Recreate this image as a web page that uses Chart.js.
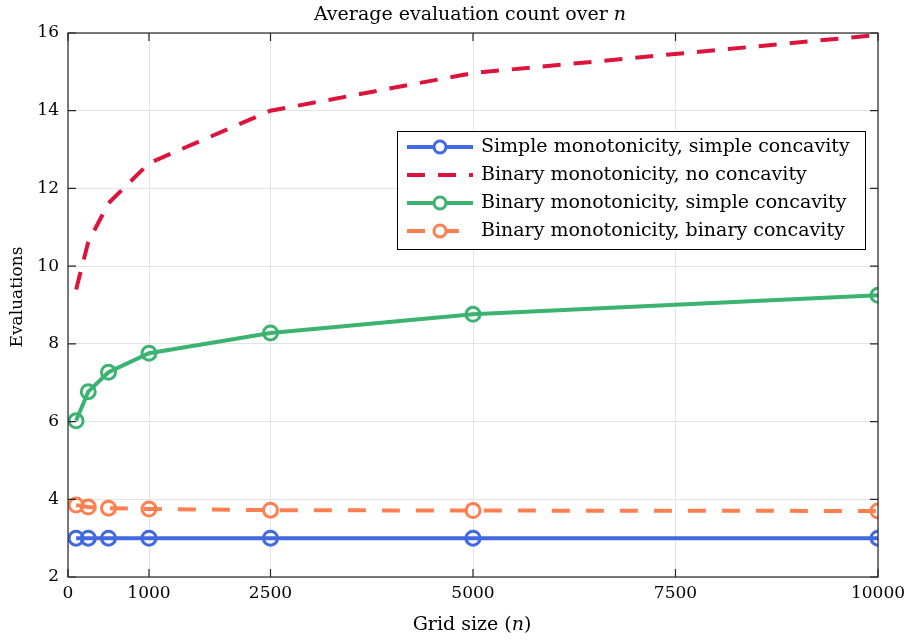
<!DOCTYPE html>
<html>
<head>
<meta charset="utf-8">
<script src="https://cdn.jsdelivr.net/npm/chart.js@4.4.1/dist/chart.umd.min.js"></script>
<style>
  html, body { margin: 0; padding: 0; background: #fff; }
  #wrap { width: 911px; height: 641px; }
</style>
</head>
<body>
<div id="wrap"><canvas id="chart" width="911" height="641"></canvas></div>
<script>
"use strict";

// grid sizes n
var gridSizes = [100, 250, 500, 1000, 2500, 5000, 10000];

// average evaluation counts
var simpleSimple = [3.0, 3.0, 3.0, 3.0, 3.0, 3.0, 3.0];
var binaryNone = [9.4, 10.62, 11.62, 12.65, 14.0, 14.97, 15.95];
var binarySimple = [6.02, 6.77, 7.27, 7.76, 8.28, 8.76, 9.25];
var binaryBinary = [3.85, 3.8, 3.77, 3.75, 3.72, 3.71, 3.7];

var xTickValues = [0, 1000, 2500, 5000, 7500, 10000];
var yTickValues = [2, 4, 6, 8, 10, 12, 14, 16];

var seriesNames = [
    "Simple monotonicity, simple concavity",
    "Binary monotonicity, no concavity",
    "Binary monotonicity, simple concavity",
    "Binary monotonicity, binary concavity"
];

var FONT = "'DejaVu Serif', serif";
var INK = "#262626";

function toPoints(ys) {
    return gridSizes.map(function(n, i) { return { x: n, y: ys[i] }; });
}

function makeSet(label, ys, color, dash, markers) {
    return {
        label: label,
        data: toPoints(ys),
        borderColor: color,
        backgroundColor: color,
        borderWidth: 4,
        borderDash: dash,
        pointRadius: markers ? 7 : 0,
        pointBorderWidth: 3,
        pointBorderColor: color,
        pointBackgroundColor: "rgba(0,0,0,0)",
        pointStyle: "circle",
        tension: 0,
        fill: false
    };
}

var frame_plugin = {
    id: "frame",
    afterDraw: function(chart) {
        var ctx = chart.ctx;
        var a = chart.chartArea;
        var xs = chart.scales.x;
        var ys = chart.scales.y;
        ctx.save();
        ctx.strokeStyle = INK;
        ctx.lineWidth = 1.2;
        ctx.strokeRect(a.left, a.top, a.right - a.left, a.bottom - a.top);
        var tl = 8;
        ctx.beginPath();
        xTickValues.forEach(function(v) {
            var px = xs.getPixelForValue(v);
            ctx.moveTo(px, a.bottom); ctx.lineTo(px, a.bottom - tl);
            ctx.moveTo(px, a.top); ctx.lineTo(px, a.top + tl);
        });
        yTickValues.forEach(function(v) {
            var py = ys.getPixelForValue(v);
            ctx.moveTo(a.left, py); ctx.lineTo(a.left + tl, py);
            ctx.moveTo(a.right, py); ctx.lineTo(a.right - tl, py);
        });
        ctx.stroke();

        // title and axis labels, with italic n
        ctx.fillStyle = "#000";
        ctx.textBaseline = "middle";
        function mixed(parts, cx, cy) {
            var w = 0;
            parts.forEach(function(p) { ctx.font = p[1]; w += ctx.measureText(p[0]).width; });
            var x = cx - w / 2;
            ctx.textAlign = "left";
            parts.forEach(function(p) {
                ctx.font = p[1];
                ctx.fillText(p[0], x, cy);
                x += ctx.measureText(p[0]).width;
            });
        }
        var big = "19px " + FONT;
        var bigIt = "italic 19px " + FONT;
        mixed([["Average evaluation count over ", big], ["n", bigIt]], 470, 15);
        mixed([["Grid size (", big], ["n", bigIt], [")", big]], 472, 625);
        ctx.save();
        ctx.translate(18, 297);
        ctx.rotate(-Math.PI / 2);
        mixed([["Evaluations", "17px " + FONT]], 0, 0);
        ctx.restore();

        // legend box
        var bx = 397, by = 131, bw = 468, bh = 118;
        ctx.fillStyle = "#fff";
        ctx.fillRect(bx, by, bw, bh);
        ctx.strokeStyle = "#000";
        ctx.lineWidth = 1;
        ctx.strokeRect(bx + 0.5, by + 0.5, bw, bh);
        chart.data.datasets.forEach(function(ds, i) {
            var cy = by + 16 + i * 28;
            ctx.save();
            ctx.strokeStyle = ds.borderColor;
            ctx.lineWidth = ds.borderWidth;
            ctx.setLineDash(ds.borderDash);
            ctx.beginPath();
            ctx.moveTo(407, cy); ctx.lineTo(473, cy);
            ctx.stroke();
            ctx.setLineDash([]);
            if (ds.pointRadius > 0) {
                ctx.lineWidth = ds.pointBorderWidth;
                ctx.fillStyle = "#fff";
                ctx.beginPath();
                ctx.arc(440, cy, ds.pointRadius - 1, 0, Math.PI * 2);
                ctx.fill();
                ctx.stroke();
            }
            ctx.restore();
            ctx.fillStyle = "#000";
            ctx.font = "19px " + FONT;
            ctx.textAlign = "left";
            ctx.fillText(ds.label, 481, cy);
        });
        ctx.restore();
    }
};

var chart_context = document.getElementById("chart").getContext("2d");
var chart = new Chart(chart_context, {
    type: "line",
    data: {
        datasets: [
            makeSet(seriesNames[0], simpleSimple, "#4169E1", [], true),
            makeSet(seriesNames[1], binaryNone, "#DC143C", [18, 13], false),
            makeSet(seriesNames[2], binarySimple, "#3CB371", [], true),
            makeSet(seriesNames[3], binaryBinary, "#FF7F50", [18, 16], true)
        ]
    },
    options: {
        responsive: false,
        animation: false,
        layout: { padding: { top: 33, right: 33, left: 0, bottom: 0 } },
        plugins: {
            legend: { display: false },
            title: { display: false },
            tooltip: { enabled: false }
        },
        scales: {
            x: {
                type: "linear",
                min: 0,
                max: 10000,
                afterBuildTicks: function(scale) {
                    scale.ticks = xTickValues.map(function(v) { return { value: v }; });
                },
                afterFit: function(scale) {
                    scale.height = 64;
                    scale.paddingLeft = 0;
                    scale.paddingRight = 0;
                },
                grid: { color: "#e3e3e3", drawTicks: false },
                border: { display: false },
                ticks: {
                    padding: 6,
                    maxRotation: 0,
                    color: "#000",
                    font: { family: FONT, size: 17 },
                    callback: function(v) { return String(v); }
                }
            },
            y: {
                min: 2,
                max: 16,
                afterBuildTicks: function(scale) {
                    scale.ticks = yTickValues.map(function(v) { return { value: v }; });
                },
                afterFit: function(scale) {
                    scale.width = 68;
                    scale.paddingTop = 0;
                    scale.paddingBottom = 0;
                },
                grid: { color: "#e3e3e3", drawTicks: false },
                border: { display: false },
                ticks: {
                    padding: 9,
                    color: "#000",
                    font: { family: FONT, size: 17 }
                }
            }
        }
    },
    plugins: [frame_plugin]
});
</script>
</body>
</html>
